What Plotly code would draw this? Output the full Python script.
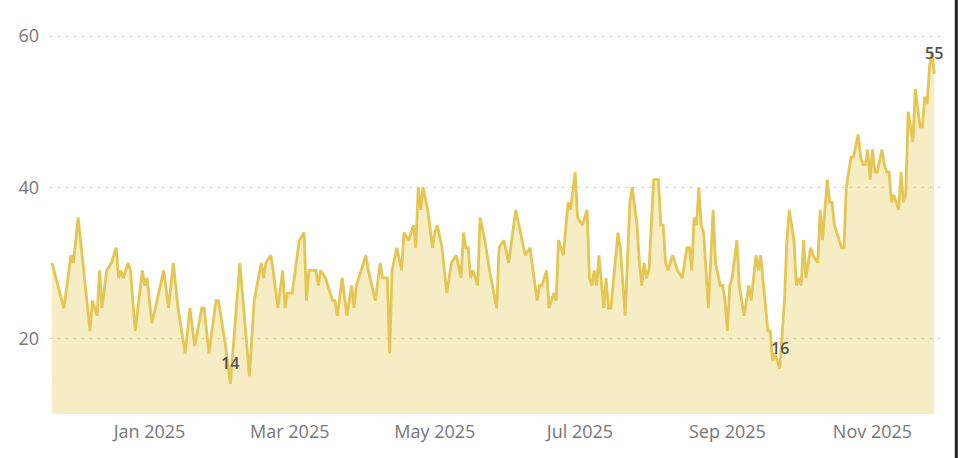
import plotly.graph_objects as go

dates = [
    "2024-11-21", "2024-11-26", "2024-11-29", "2024-11-30", "2024-12-02", "2024-12-04",
    "2024-12-07", "2024-12-08", "2024-12-09", "2024-12-10", "2024-12-11", "2024-12-12",
    "2024-12-14", "2024-12-16", "2024-12-18", "2024-12-19", "2024-12-20", "2024-12-21",
    "2024-12-23", "2024-12-24", "2024-12-26", "2024-12-29", "2024-12-30", "2024-12-31",
    "2025-01-02", "2025-01-07", "2025-01-09", "2025-01-11", "2025-01-13", "2025-01-16",
    "2025-01-18", "2025-01-20", "2025-01-23", "2025-01-24", "2025-01-26", "2025-01-29",
    "2025-01-30", "2025-02-02", "2025-02-04", "2025-02-08", "2025-02-12", "2025-02-14",
    "2025-02-17", "2025-02-18", "2025-02-19", "2025-02-21", "2025-02-22", "2025-02-24",
    "2025-02-26", "2025-02-27", "2025-02-28", "2025-03-02", "2025-03-05", "2025-03-07",
    "2025-03-08", "2025-03-09", "2025-03-10", "2025-03-12", "2025-03-13", "2025-03-14",
    "2025-03-16", "2025-03-19", "2025-03-20", "2025-03-21", "2025-03-23", "2025-03-25",
    "2025-03-27", "2025-03-28", "2025-03-29", "2025-03-31", "2025-04-02", "2025-04-03",
    "2025-04-06", "2025-04-08", "2025-04-09", "2025-04-11", "2025-04-12", "2025-04-13",
    "2025-04-15", "2025-04-17", "2025-04-18", "2025-04-20", "2025-04-22", "2025-04-23",
    "2025-04-24", "2025-04-25", "2025-04-26", "2025-04-28", "2025-04-30", "2025-05-01",
    "2025-05-02", "2025-05-04", "2025-05-06", "2025-05-08", "2025-05-10", "2025-05-12",
    "2025-05-13", "2025-05-14", "2025-05-15", "2025-05-16", "2025-05-17", "2025-05-19",
    "2025-05-20", "2025-05-22", "2025-05-24", "2025-05-27", "2025-05-28", "2025-05-30",
    "2025-06-01", "2025-06-04", "2025-06-06", "2025-06-08", "2025-06-10", "2025-06-13",
    "2025-06-14", "2025-06-15", "2025-06-17", "2025-06-18", "2025-06-20", "2025-06-21",
    "2025-06-22", "2025-06-24", "2025-06-26", "2025-06-27", "2025-06-29", "2025-06-30",
    "2025-07-02", "2025-07-04", "2025-07-05", "2025-07-06", "2025-07-07", "2025-07-08",
    "2025-07-09", "2025-07-11", "2025-07-12", "2025-07-13", "2025-07-14", "2025-07-17",
    "2025-07-18", "2025-07-20", "2025-07-22", "2025-07-23", "2025-07-25", "2025-07-26",
    "2025-07-27", "2025-07-28", "2025-07-29", "2025-07-30", "2025-08-01", "2025-08-03",
    "2025-08-04", "2025-08-05", "2025-08-06", "2025-08-07", "2025-08-09", "2025-08-11",
    "2025-08-13", "2025-08-15", "2025-08-16", "2025-08-17", "2025-08-18", "2025-08-19",
    "2025-08-20", "2025-08-21", "2025-08-22", "2025-08-24", "2025-08-26", "2025-08-27",
    "2025-08-29", "2025-08-30", "2025-08-31", "2025-09-01", "2025-09-02", "2025-09-03",
    "2025-09-05", "2025-09-06", "2025-09-08", "2025-09-10", "2025-09-11", "2025-09-13",
    "2025-09-14", "2025-09-15", "2025-09-18", "2025-09-19", "2025-09-20", "2025-09-21",
    "2025-09-22", "2025-09-23", "2025-09-25", "2025-09-26", "2025-09-27", "2025-09-29",
    "2025-09-30", "2025-10-01", "2025-10-02", "2025-10-03", "2025-10-04", "2025-10-06",
    "2025-10-07", "2025-10-09", "2025-10-10", "2025-10-11", "2025-10-12", "2025-10-13",
    "2025-10-14", "2025-10-15", "2025-10-16", "2025-10-17", "2025-10-19", "2025-10-20",
    "2025-10-21", "2025-10-22", "2025-10-23", "2025-10-24", "2025-10-26", "2025-10-27",
    "2025-10-28", "2025-10-29", "2025-10-30", "2025-10-31", "2025-11-01", "2025-11-02",
    "2025-11-03", "2025-11-05", "2025-11-06", "2025-11-07", "2025-11-08", "2025-11-09",
    "2025-11-10", "2025-11-12", "2025-11-13", "2025-11-14", "2025-11-15", "2025-11-16",
    "2025-11-18", "2025-11-19", "2025-11-21", "2025-11-22", "2025-11-23", "2025-11-24",
    "2025-11-25", "2025-11-26", "2025-11-27",
]

values = [
    30, 24, 31, 30, 36, 30,
    21, 25, 24, 23, 29, 24,
    29, 30, 32, 28, 29, 28,
    30, 29, 21, 29, 27, 28,
    22, 29, 24, 30, 24, 18,
    24, 19, 24, 24, 18, 25,
    25, 19, 14, 30, 15, 25,
    30, 28, 30, 31, 29, 24,
    29, 24, 26, 26, 33, 34,
    25, 29, 29, 29, 27, 29,
    28, 25, 25, 23, 28, 23,
    27, 24, 27, 29, 31, 29,
    25, 30, 28, 28, 18, 29,
    32, 29, 34, 33, 35, 32,
    40, 37, 40, 37, 32, 34,
    35, 32, 26, 30, 31, 28,
    34, 32, 32, 28, 29, 27,
    36, 33, 29, 24, 32, 33,
    30, 37, 34, 31, 32, 25,
    27, 27, 29, 24, 26, 25,
    33, 31, 38, 37, 42, 36,
    35, 37, 28, 27, 29, 27,
    31, 24, 28, 24, 24, 34,
    32, 23, 38, 40, 35, 30,
    27, 30, 28, 29, 41, 41,
    35, 35, 30, 29, 31, 29,
    28, 32, 32, 29, 36, 35,
    40, 35, 34, 24, 37, 30,
    27, 27, 25, 21, 27, 28,
    33, 27, 23, 27, 25, 31,
    29, 31, 21, 21, 17, 18,
    17, 16, 25, 33, 37, 33,
    27, 28, 27, 33, 28, 32,
    31, 30, 37, 33, 37, 41,
    38, 38, 35, 34, 32, 32,
    40, 42, 44, 44, 47, 44,
    43, 43, 45, 41, 45, 42,
    42, 45, 43, 42, 42, 38,
    39, 37, 42, 38, 39, 50,
    46, 53, 48, 48, 52, 51,
    56, 58, 55,
]

tick_dates = ["2025-01-01", "2025-03-01", "2025-05-01", "2025-07-01", "2025-09-01", "2025-11-01"]
tick_labels = ["Jan 2025", "Mar 2025", "May 2025", "Jul 2025", "Sep 2025", "Nov 2025"]
y_ticks = [20, 40, 60]
label_dates = ["2025-02-04", "2025-09-23", "2025-11-27"]

LINE = "#E4C654"
FILL = "rgba(232,200,78,0.33)"
FONT = "Open Sans"

fig = go.Figure()
fig.add_trace(go.Scatter(
    x=dates, y=values, mode="lines",
    line=dict(color=LINE, width=2.8),
    fill="tozeroy", fillcolor=FILL,
    hoverinfo="x+y", showlegend=False,
))

annotations = []
for d in label_dates:
    v = values[dates.index(d)]
    annotations.append(dict(
        x=d, y=v, xref="x", yref="y", text=str(v), showarrow=False,
        yshift=21, font=dict(family=FONT, size=16, color="#505050", weight=600),
    ))

fig.update_layout(
    width=960, height=458,
    margin=dict(l=50, r=14, t=21, b=44),
    paper_bgcolor="white", plot_bgcolor="white",
    font=dict(family=FONT, size=18, color="#777777"),
    annotations=annotations,
    shapes=[dict(type="line", xref="paper", yref="paper",
                 x0=1.0115, x1=1.0115, y0=-0.12, y1=1.06,
                 line=dict(color="#222222", width=3))],
    xaxis=dict(
        type="date",
        range=["2024-11-20 04:00", "2025-12-01 22:00"],
        tickvals=tick_dates, ticktext=tick_labels,
        showgrid=False, zeroline=False, showline=False, ticks="",
        ticklabelstandoff=5,
        tickfont=dict(family=FONT, size=18, color="#777777"),
    ),
    yaxis=dict(
        range=[10, 62],
        tickvals=y_ticks,
        showgrid=True, gridcolor="#cccccc", gridwidth=1, griddash="2px,6px",
        zeroline=False, showline=False, ticks="",
        ticklabelstandoff=10,
        tickfont=dict(family=FONT, size=18, color="#777777"),
    ),
)

fig.write_html(
    "out.html",
    config={"displayModeBar": False},
    post_script="document.body.style.margin='0';document.body.style.padding='0';",
)
